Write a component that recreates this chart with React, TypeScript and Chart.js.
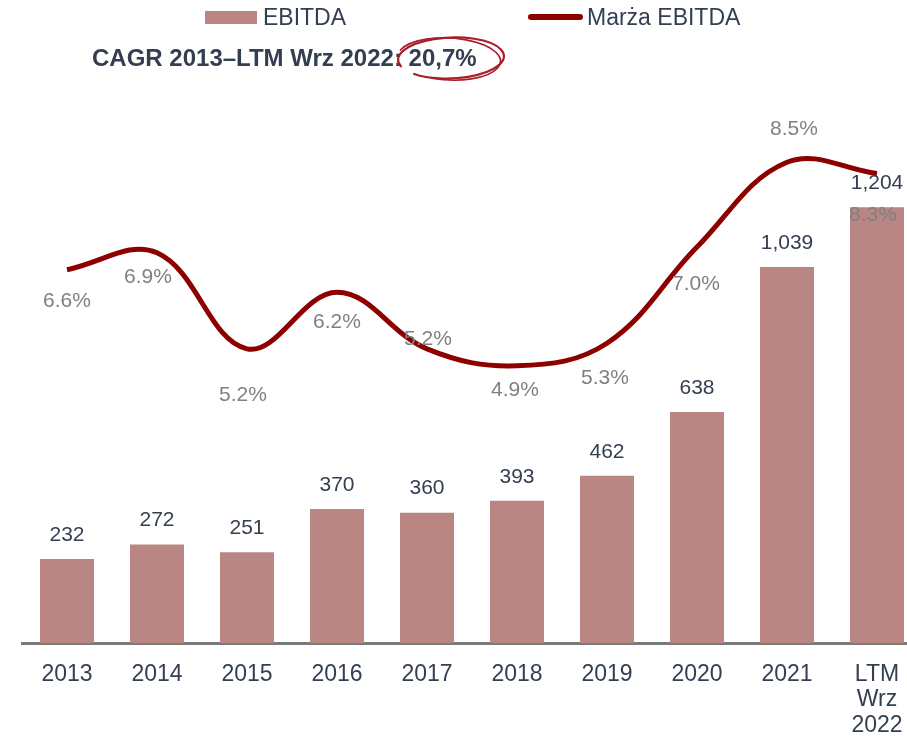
import React, { useEffect, useRef } from "react";
import { Chart, registerables } from "chart.js";

Chart.register(...registerables);

const categories: (string | string[])[] = ["2013", "2014", "2015", "2016", "2017", "2018", "2019", "2020", "2021", ["LTM", "Wrz", "2022"]];
const ebitda = [232, 272, 251, 370, 360, 393, 462, 638, 1039, 1204];
const margin = [6.6, 6.9, 5.2, 6.2, 5.2, 4.9, 5.3, 7.0, 8.5, 8.3];
const legendLabels = ["EBITDA", "Marża EBITDA"];
const titleText = "CAGR 2013–LTM Wrz 2022: 20,7%";

// label placement styles (pixel offsets from each line point)
const marginLabelOffsets: [number, number][] = [
  [0, 32], [-9, 24], [-4, 46], [0, 30], [1, -10], [-2, 24], [-2, 35], [-1, 37], [7, -33], [-4, 42],
];

const FONT = "'Liberation Sans', Arial, sans-serif";
const BAR_COLOR = "#B98683";
const LINE_COLOR = "#8C0000";
const TEXT_COLOR = "#333F50";
const GRAY = "#808080";

const fmtNum = (v: number) => v.toLocaleString("en-US");
const fmtPct = (v: number) => v.toFixed(1) + "%";

const labelsPlugin = {
  id: "customLabels",
  afterDatasetsDraw(chart: any) {
    const ctx = chart.ctx;
    ctx.save();
    ctx.textAlign = "center";
    ctx.textBaseline = "middle";
    const barMeta = chart.getDatasetMeta(1);
    ctx.font = `21px ${FONT}`;
    ctx.fillStyle = TEXT_COLOR;
    barMeta.data.forEach((el: any, i: number) => {
      ctx.fillText(fmtNum(ebitda[i]), el.x, el.y - 24);
    });
    const lineMeta = chart.getDatasetMeta(0);
    ctx.fillStyle = GRAY;
    lineMeta.data.forEach((el: any, i: number) => {
      const [dx, dy] = marginLabelOffsets[i];
      ctx.fillText(fmtPct(margin[i]), el.x + dx, el.y + dy);
    });
    ctx.restore();
  },
  afterDraw(chart: any) {
    const ctx = chart.ctx;
    ctx.save();
    // legend
    ctx.fillStyle = BAR_COLOR;
    ctx.fillRect(205, 11, 52, 13);
    ctx.font = `23px ${FONT}`;
    ctx.fillStyle = TEXT_COLOR;
    ctx.textBaseline = "alphabetic";
    ctx.textAlign = "left";
    ctx.fillText(legendLabels[0], 263, 25);
    ctx.strokeStyle = LINE_COLOR;
    ctx.lineWidth = 6;
    ctx.lineCap = "round";
    ctx.beginPath();
    ctx.moveTo(531, 17);
    ctx.lineTo(580, 17);
    ctx.stroke();
    ctx.fillText(legendLabels[1], 587, 25);
    // title
    ctx.font = `bold 24px ${FONT}`;
    ctx.fillText(titleText, 92, 66);
    // hand-drawn ellipse
    ctx.strokeStyle = "#A81E2A";
    ctx.lineCap = "round";
    ctx.lineWidth = 2.2;
    ctx.beginPath();
    ctx.ellipse(451, 58, 53, 20.5, -0.04, Math.PI * 0.9, Math.PI * 2.75);
    ctx.stroke();
    ctx.lineWidth = 1.6;
    ctx.beginPath();
    ctx.ellipse(449, 59, 51.5, 21, 0.05, Math.PI * 1.1, Math.PI * 2.6);
    ctx.stroke();
    ctx.restore();
  },
};

export default function App() {
  const ref = useRef<HTMLCanvasElement | null>(null);
  useEffect(() => {
    document.body.style.margin = "0";
    document.body.style.overflow = "hidden";
    if (!ref.current) return;
    const chart = new Chart(ref.current, {
      type: "bar",
      data: {
        labels: categories,
        datasets: [
          {
            type: "line",
            label: legendLabels[1],
            data: margin,
            yAxisID: "y2",
            borderColor: LINE_COLOR,
            borderWidth: 5,
            tension: 0.38,
            pointRadius: 0,
            fill: false,
            order: 0,
          } as any,
          {
            type: "bar",
            label: legendLabels[0],
            data: ebitda,
            yAxisID: "y",
            backgroundColor: BAR_COLOR,
            categoryPercentage: 0.6,
            barPercentage: 1,
            order: 1,
          },
        ],
      },
      options: {
        responsive: false,
        animation: false,
        devicePixelRatio: 1,
        layout: { padding: { left: 22, right: 8, top: 100, bottom: 0 } },
        plugins: { legend: { display: false }, tooltip: { enabled: false }, title: { display: false } },
        scales: {
          x: {
            offset: true,
            grid: { display: false },
            border: { display: true, color: "#7A7A7A", width: 3 },
            ticks: {
              font: { family: FONT, size: 23, lineHeight: 1.1 },
              color: TEXT_COLOR,
              padding: 11,
              maxRotation: 0,
              autoSkip: false,
            },
            afterFit(scale: any) {
              scale.height = 94;
            },
          },
          y: { display: false, min: 0, max: 1500 },
          y2: { display: false, min: 0, max: 9.6, position: "right" },
        },
      },
      plugins: [labelsPlugin],
    });
    return () => chart.destroy();
  }, []);
  return (
    <div style={{ position: "relative", width: 907, height: 737, overflow: "hidden" }}>
      <canvas ref={ref} width={930} height={737} style={{ width: 930, height: 737, display: "block" }} />
    </div>
  );
}
